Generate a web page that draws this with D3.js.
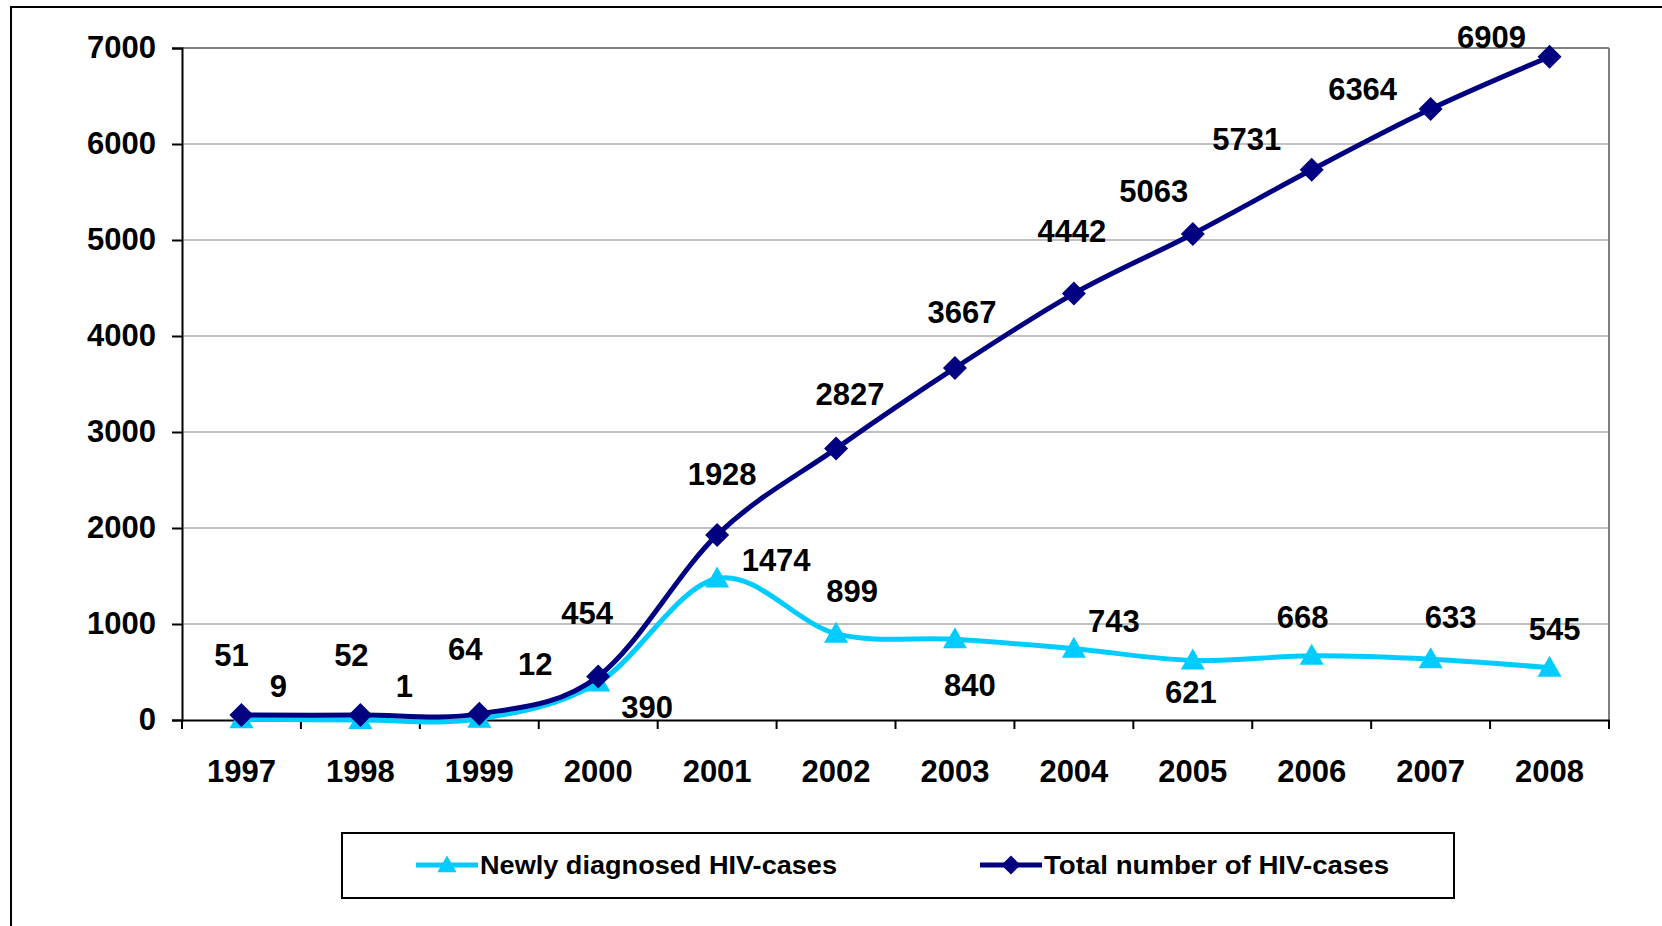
<!DOCTYPE html>
<html>
<head>
<meta charset="utf-8">
<script src="https://cdn.jsdelivr.net/npm/d3@7"></script>
<style>
  body { margin: 0; background: #fff; }
  svg { display: block; font-family: "Liberation Sans", Arial, sans-serif; font-weight: bold; }
</style>
</head>
<body>
<svg id="chart" width="1662" height="926"></svg>
<script>
// years on the x axis
const years = ["1997", "1998", "1999", "2000", "2001", "2002", "2003", "2004", "2005", "2006", "2007", "2008"];
// newly diagnosed cases per year
const newCases = [9, 1, 12, 390, 1474, 899, 840, 743, 621, 668, 633, 545];
// cumulative number of cases
const totalCases = [51, 52, 64, 454, 1928, 2827, 3667, 4442, 5063, 5731, 6364, 6909];
const yTicks = [0, 1000, 2000, 3000, 4000, 5000, 6000, 7000];

// where each data label sits relative to its marker (px)
const newLabelNudge = [[37, -33], [44, -34], [56, -55], [49, 24], [59, -19], [16, -43], [15, 45], [40, -28], [-2, 31], [-9, -39], [20, -42], [5, -39]];
const totalLabelNudge = [[-10, -60], [-9, -60], [-14, -65], [-11, -64], [5, -61], [14, -55], [7, -56], [-2, -63], [-39, -43], [-65, -31], [-68, -20], [-58, -20]];

const svg = d3.select("#chart");
const plotLeft = 182, plotRight = 1609, plotTop = 48, plotBottom = 720;
const fontSize = 31;

// outer chart border
svg.append("rect")
    .attr("x", 11).attr("y", 7)
    .attr("width", 1700).attr("height", 1000)
    .attr("fill", "none").attr("stroke", "#000").attr("stroke-width", 2);

const x = d3.scaleBand().domain(years).range([plotLeft, plotRight]);
const y = d3.scaleLinear().domain([0, 7000]).range([plotBottom, plotTop]);
const cx = d => x(d) + x.bandwidth() / 2;

// gridlines
svg.append("g").selectAll("line")
    .data(yTicks.filter(t => t > 0))
    .join("line")
    .attr("x1", plotLeft).attr("x2", plotRight)
    .attr("y1", d => y(d)).attr("y2", d => y(d))
    .attr("stroke", d => d === 7000 ? "#808080" : "#c0c0c0")
    .attr("stroke-width", 2);

// plot area right border
svg.append("line")
    .attr("x1", plotRight).attr("x2", plotRight).attr("y1", plotTop).attr("y2", plotBottom)
    .attr("stroke", "#808080").attr("stroke-width", 2);

// y axis
const yAxis = svg.append("g")
    .attr("transform", `translate(${plotLeft},0)`)
    .call(d3.axisLeft(y).tickValues(yTicks).tickSize(10).tickPadding(16).tickFormat(d3.format("d")));
yAxis.selectAll("text").attr("font-size", fontSize).attr("font-family", null).attr("fill", "#000");

// x axis, ticks between categories
const xAxis = svg.append("g")
    .attr("transform", `translate(0,${plotBottom})`)
    .call(d3.axisBottom(x).tickSize(0).tickPadding(40));
xAxis.selectAll("text").attr("font-size", fontSize).attr("font-family", null).attr("fill", "#000");
xAxis.selectAll(".edge")
    .data(d3.range(years.length + 1))
    .join("line")
    .attr("class", "edge")
    .attr("x1", i => plotLeft + i * x.bandwidth()).attr("x2", i => plotLeft + i * x.bandwidth())
    .attr("y1", 0).attr("y2", 9)
    .attr("stroke", "#000").attr("stroke-width", 2);

svg.selectAll(".domain").attr("stroke", "#000").attr("stroke-width", 2);
yAxis.selectAll(".tick line").attr("stroke-width", 2);

const line = d3.line().curve(d3.curveCatmullRom.alpha(0));

function drawSeries(values, color, marker) {
    const pts = values.map((v, i) => [cx(years[i]), y(v)]);
    svg.append("path")
        .attr("d", line(pts))
        .attr("fill", "none")
        .attr("stroke", color)
        .attr("stroke-width", 5);
    svg.append("g").selectAll("path")
        .data(pts)
        .join("path")
        .attr("transform", p => `translate(${p[0]},${p[1]})`)
        .attr("d", marker)
        .attr("fill", color);
}

const triangle = "M0,-12L12,9L-12,9Z";
const diamond = "M0,-12L12,0L0,12L-12,0Z";

drawSeries(newCases, "#00ccff", triangle);
drawSeries(totalCases, "#000080", diamond);

function drawLabels(values, nudge) {
    svg.append("g").selectAll("text")
        .data(values)
        .join("text")
        .attr("x", (v, i) => cx(years[i]) + nudge[i][0])
        .attr("y", (v, i) => y(v) + nudge[i][1])
        .attr("dy", "0.36em")
        .attr("text-anchor", "middle")
        .attr("font-size", fontSize)
        .attr("fill", "#000")
        .text(d => d);
}
drawLabels(newCases, newLabelNudge);
drawLabels(totalCases, totalLabelNudge);

// legend
const legend = svg.append("g");
legend.append("rect")
    .attr("x", 342).attr("y", 833).attr("width", 1112).attr("height", 65)
    .attr("fill", "#fff").attr("stroke", "#000").attr("stroke-width", 2);

const legendItems = [
    { name: "Newly diagnosed HIV-cases", color: "#00ccff", marker: triangle, x0: 416, len: 357 },
    { name: "Total number of HIV-cases", color: "#000080", marker: diamond, x0: 980, len: 345 }
];
legendItems.forEach(item => {
    legend.append("line")
        .attr("x1", item.x0).attr("x2", item.x0 + 62)
        .attr("y1", 865).attr("y2", 865)
        .attr("stroke", item.color).attr("stroke-width", 5);
    legend.append("path")
        .attr("transform", `translate(${item.x0 + 31},865) scale(0.8)`)
        .attr("d", item.marker)
        .attr("fill", item.color);
    legend.append("text")
        .attr("x", item.x0 + 64).attr("y", 865)
        .attr("dy", "0.36em")
        .attr("font-size", 26)
        .attr("textLength", item.len)
        .attr("lengthAdjust", "spacingAndGlyphs")
        .text(item.name);
});
</script>
</body>
</html>
